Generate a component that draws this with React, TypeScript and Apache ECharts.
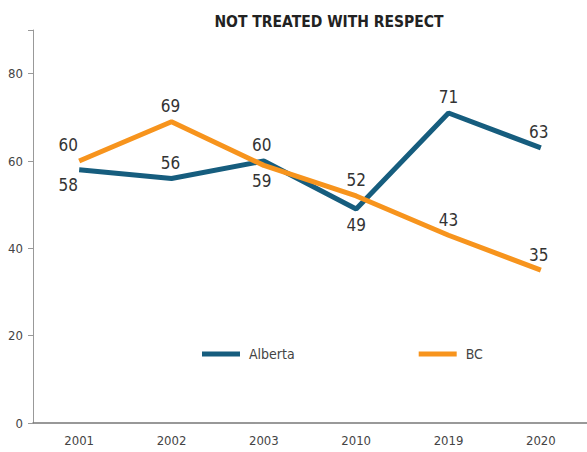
import React, { useEffect, useRef } from "react";
import * as echarts from "echarts";

const years = ["2001", "2002", "2003", "2010", "2019", "2020"];
const alberta = [58, 56, 60, 49, 71, 63];
const bc = [60, 69, 59, 52, 43, 35];
const albertaLabelPos = ["bottom", "top", "top", "bottom", "top", "top"];
const bcLabelPos = ["top", "top", "bottom", "top", "top", "top"];
const labelShiftX = [-11, -1, -2, 0, 0, -2];
const yTicks = [0, 20, 40, 60, 80];

const FONT = "'Liberation Sans Narrow', 'DejaVu Sans Condensed', sans-serif";

export default function App() {
  const ref = useRef<HTMLDivElement>(null);
  useEffect(() => {
    if (!ref.current) return;
    const chart = echarts.init(ref.current, null, { renderer: "svg" });
    const mk = (vals: number[], pos: string[]) =>
      vals.map((v, i) => ({
        value: v,
        label: { position: pos[i], offset: [labelShiftX[i], 0] },
      }));
    const labelStyle = { show: true, fontFamily: FONT, fontSize: 17, color: "#333", distance: 7 };
    chart.setOption({
      animation: false,
      textStyle: { fontFamily: FONT },
      title: {
        text: "NOT TREATED WITH RESPECT",
        left: 324,
        top: 9,
        textAlign: "center",
        textStyle: { fontFamily: FONT, fontWeight: "bold", fontSize: 15.5, color: "#222" },
      },
      grid: { left: 33, right: -3, top: 30, bottom: 29, containLabel: false },
      legend: {
        top: 342,
        left: 197,
        itemWidth: 38,
        itemHeight: 5,
        itemGap: 124,
        icon: "rect",
        textStyle: { fontFamily: FONT, fontSize: 14, color: "#444", padding: [0, 0, 0, 4] },
        data: ["Alberta", "BC"],
      },
      xAxis: {
        type: "category",
        data: years,
        boundaryGap: true,
        axisLine: { lineStyle: { color: "#777", width: 1.5 } },
        axisTick: { show: false },
        axisLabel: { fontFamily: FONT, fontSize: 13, color: "#444", margin: 11 },
      },
      yAxis: {
        type: "value",
        min: 0,
        max: 90,
        interval: 20,
        axisLine: { show: true, lineStyle: { color: "#999", width: 1 } },
        axisTick: { show: true, length: 5, lineStyle: { color: "#999" } },
        splitLine: { show: false },
        axisLabel: {
          fontFamily: FONT,
          fontSize: 13,
          color: "#444",
          margin: 10,
          formatter: (v: number) => (yTicks.includes(v) ? String(v) : ""),
        },
      },
      series: [
        {
          name: "Alberta",
          type: "line",
          data: mk(alberta, albertaLabelPos),
          symbol: "circle",
          symbolSize: 0.1,
          showSymbol: true,
          lineStyle: { color: "#165d7e", width: 5 },
          itemStyle: { color: "#165d7e" },
          label: labelStyle,
        },
        {
          name: "BC",
          type: "line",
          data: mk(bc, bcLabelPos),
          symbol: "circle",
          symbolSize: 0.1,
          showSymbol: true,
          lineStyle: { color: "#f7941d", width: 5 },
          itemStyle: { color: "#f7941d" },
          label: labelStyle,
        },
      ],
    });
    return () => chart.dispose();
  }, []);
  return (
    <div
      ref={ref}
      style={{ position: "fixed", left: 0, top: 0, width: 587, height: 452, background: "#fff" }}
    />
  );
}
